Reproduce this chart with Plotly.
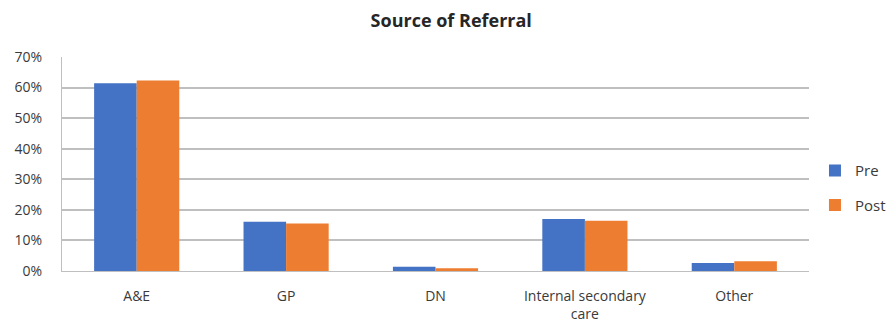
import plotly.graph_objects as go

# Referral source shares before and after the change
categories = ["A&E", "GP", "DN", "Internal secondary<br>care", "Other"]
pre_values = [0.614, 0.161, 0.014, 0.170, 0.026]
post_values = [0.623, 0.155, 0.009, 0.164, 0.032]
y_ticks = [0, 0.1, 0.2, 0.3, 0.4, 0.5, 0.6, 0.7]
y_tick_labels = ["0%", "10%", "20%", "30%", "40%", "50%", "60%", "70%"]

FONT = "Open Sans, Segoe UI, sans-serif"
TEXT = "#3a3a3a"

fig = go.Figure()
fig.add_trace(go.Bar(name="Pre", x=categories, y=pre_values,
                     marker=dict(color="#4472C4", line=dict(width=0)),
                     legendgroup="pre"))
fig.add_trace(go.Bar(name="Post", x=categories, y=post_values,
                     marker=dict(color="#ED7D31", line=dict(width=0)),
                     legendgroup="post"))

fig.update_layout(
    width=890, height=322,
    margin=dict(l=62, r=81, t=57, b=51, autoexpand=False),
    paper_bgcolor="white", plot_bgcolor="white",
    barmode="group", bargap=0.43, bargroupgap=0,
    font=dict(family=FONT, size=14, color=TEXT),
    title=dict(text="<b>Source of Referral</b>", x=0.507, xanchor="center",
               y=0.935, yanchor="middle",
               font=dict(family=FONT, size=18, color="#262626")),
    legend=dict(x=1.008, xanchor="left", y=0.545, yanchor="top",
                font=dict(size=15, color=TEXT), tracegroupgap=12,
                itemwidth=30, bgcolor="rgba(0,0,0,0)"),
    showlegend=True,
)
fig.update_xaxes(showgrid=False, showline=True, linecolor="#bfbfbf", linewidth=1,
                 automargin=False, ticks="", ticklabelstandoff=12,
                 tickfont=dict(size=14, color=TEXT))
fig.update_yaxes(range=[0, 0.7], tickvals=y_ticks, ticktext=y_tick_labels,
                 showgrid=True, gridcolor="#bfbfbf", gridwidth=1.5,
                 showline=True, linecolor="#bfbfbf", linewidth=1, zeroline=False,
                 automargin=False, ticks="", ticklabelstandoff=16,
                 tickfont=dict(size=14, color=TEXT))

fig.write_html("out.html")
